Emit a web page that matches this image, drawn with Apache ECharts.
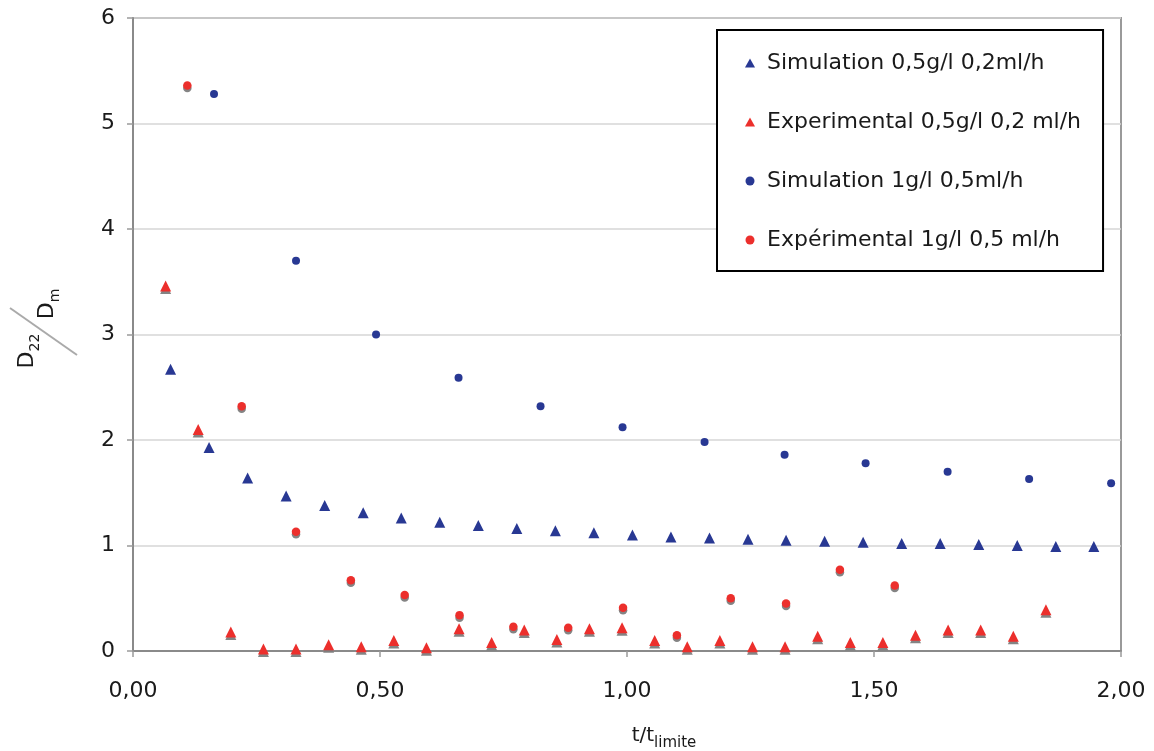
<!DOCTYPE html>
<html>
<head>
<meta charset="utf-8">
<script src="https://cdn.jsdelivr.net/npm/echarts@6/dist/echarts.min.js"></script>
<style>
html,body{margin:0;padding:0;background:#fff;}
#chart{width:1154px;height:751px;}
</style>
</head>
<body>
<div id="chart"></div>
<script>
// Simulation 0,5g/l 0,2ml/h (blue triangles)
const simA_x = [0.076,0.154,0.232,0.310,0.388,0.466,0.543,0.621,0.699,0.777,0.855,0.933,1.011,1.089,1.167,1.245,1.322,1.400,1.478,1.556,1.634,1.712,1.790,1.868,1.945];
const simA_y = [2.67,1.93,1.64,1.47,1.38,1.31,1.26,1.22,1.19,1.16,1.14,1.12,1.10,1.08,1.07,1.06,1.05,1.04,1.03,1.02,1.02,1.01,1.00,0.99,0.99];
// Experimental 0,5g/l 0,2 ml/h (red triangles)
const expA_x = [0.066,0.132,0.198,0.264,0.330,0.396,0.462,0.528,0.594,0.660,0.726,0.792,0.858,0.924,0.990,1.056,1.122,1.188,1.254,1.320,1.386,1.452,1.518,1.584,1.650,1.716,1.782,1.848];
const expA_y = [3.46,2.10,0.18,0.02,0.02,0.06,0.04,0.10,0.03,0.21,0.08,0.20,0.11,0.21,0.22,0.10,0.04,0.10,0.04,0.04,0.14,0.08,0.08,0.15,0.20,0.20,0.14,0.39];
// Simulation 1g/l 0,5ml/h (blue circles)
const simB_x = [0.164,0.330,0.492,0.659,0.825,0.991,1.157,1.319,1.483,1.649,1.814,1.980];
const simB_y = [5.28,3.70,3.00,2.59,2.32,2.12,1.98,1.86,1.78,1.70,1.63,1.59];
// Expérimental 1g/l 0,5 ml/h (red circles)
const expB_x = [0.110,0.220,0.330,0.441,0.550,0.661,0.770,0.881,0.992,1.101,1.210,1.322,1.431,1.542];
const expB_y = [5.36,2.32,1.13,0.67,0.53,0.34,0.23,0.22,0.41,0.15,0.50,0.45,0.77,0.62];

const seriesNames = ['Simulation 0,5g/l 0,2ml/h','Experimental 0,5g/l 0,2 ml/h','Simulation 1g/l 0,5ml/h','Expérimental 1g/l 0,5 ml/h'];
const xTicks = [0, 0.5, 1, 1.5, 2];
const yTicks = [0, 1, 2, 3, 4, 5, 6];

const BLUE = '#283893';
const RED = '#EC2F2C';
const FONT = 'DejaVu Sans';

function zip(xs, ys){ return xs.map((x,i)=>[x, ys[i]]); }
const redShadow = {shadowColor:'rgba(125,125,125,0.95)', shadowBlur:0, shadowOffsetX:0, shadowOffsetY:2.5};

const chart = echarts.init(document.getElementById('chart'), null, {renderer:'canvas'});
chart.setOption({
  animation:false,
  backgroundColor:'#fff',
  textStyle:{fontFamily:FONT},
  grid:{left:133, right:33, top:18, bottom:100, containLabel:false, outerBoundsMode:'none',
    show:true, borderColor:'#9a9a9a', borderWidth:2, backgroundColor:'transparent'},
  xAxis:{
    type:'value', min:xTicks[0], max:xTicks[xTicks.length-1], interval:0.5,
    splitLine:{show:false},
    axisLine:{show:true, onZero:false, lineStyle:{color:'#8a8a8a', width:2}},
    axisTick:{show:true, length:6, lineStyle:{color:'#9a9a9a', width:1.5}},
    axisLabel:{fontFamily:FONT, fontSize:22, color:'#1a1a1a', margin:29,
      formatter:(v)=>v.toFixed(2).replace('.',',')},
    name:'{a|t/t}{b|limite}',
    nameLocation:'middle', nameGap:70,
    nameTextStyle:{padding:[0,0,0,74], rich:{
      a:{fontFamily:FONT, fontSize:20, color:'#1a1a1a', lineHeight:30},
      b:{fontFamily:FONT, fontSize:15, color:'#1a1a1a', lineHeight:14, verticalAlign:'bottom'}
    }}
  },
  yAxis:{
    type:'value', min:yTicks[0], max:yTicks[yTicks.length-1], interval:1,
    splitLine:{show:true, lineStyle:{color:'#d6d6d6', width:1.5}},
    axisLine:{show:true, onZero:false, lineStyle:{color:'#8a8a8a', width:2}},
    axisTick:{show:true, length:6, lineStyle:{color:'#9a9a9a', width:1.5}},
    axisLabel:{fontFamily:FONT, fontSize:22, color:'#1a1a1a', margin:18}
  },
  legend:{
    orient:'vertical', left:717, top:30,
    padding:[21,22,19,28],
    itemGap:35, itemWidth:10, itemHeight:9,
    borderColor:'#000', borderWidth:2, backgroundColor:'#fff',
    itemStyle:{shadowBlur:0, shadowOffsetX:0, shadowOffsetY:0, shadowColor:'transparent', opacity:1},
    textStyle:{fontFamily:FONT, fontSize:22, color:'#1a1a1a', lineHeight:24, padding:[0,0,0,7]},
    data:seriesNames
  },
  graphic:[
    {type:'line', shape:{x1:10, y1:308, x2:77, y2:355}, style:{stroke:'#aaaaaa', lineWidth:2}},
    {type:'text', x:27, y:351, rotation:Math.PI/2,
      style:{text:'{D|D}{s|22}', align:'center', verticalAlign:'middle',
        rich:{D:{fontFamily:FONT, fontSize:22, fill:'#1a1a1a', lineHeight:30},
              s:{fontFamily:FONT, fontSize:14, fill:'#1a1a1a', lineHeight:14, verticalAlign:'bottom'}}}},
    {type:'text', x:47, y:304, rotation:Math.PI/2,
      style:{text:'{D|D}{s|m}', align:'center', verticalAlign:'middle',
        rich:{D:{fontFamily:FONT, fontSize:22, fill:'#1a1a1a', lineHeight:30},
              s:{fontFamily:FONT, fontSize:14, fill:'#1a1a1a', lineHeight:14, verticalAlign:'bottom'}}}}
  ],
  series:[
    {name:seriesNames[0], type:'scatter', symbol:'triangle', symbolSize:11, itemStyle:{color:BLUE, opacity:1}, data:zip(simA_x, simA_y), z:3},
    {name:seriesNames[1], type:'scatter', symbol:'triangle', symbolSize:11, itemStyle:Object.assign({color:RED, opacity:1}, redShadow), data:zip(expA_x, expA_y), z:4},
    {name:seriesNames[2], type:'scatter', symbol:'circle', symbolSize:8, itemStyle:{color:BLUE, opacity:1}, data:zip(simB_x, simB_y), z:3},
    {name:seriesNames[3], type:'scatter', symbol:'circle', symbolSize:8.5, itemStyle:Object.assign({color:RED, opacity:1}, redShadow), data:zip(expB_x, expB_y), z:4}
  ]
});
</script>
</body>
</html>
